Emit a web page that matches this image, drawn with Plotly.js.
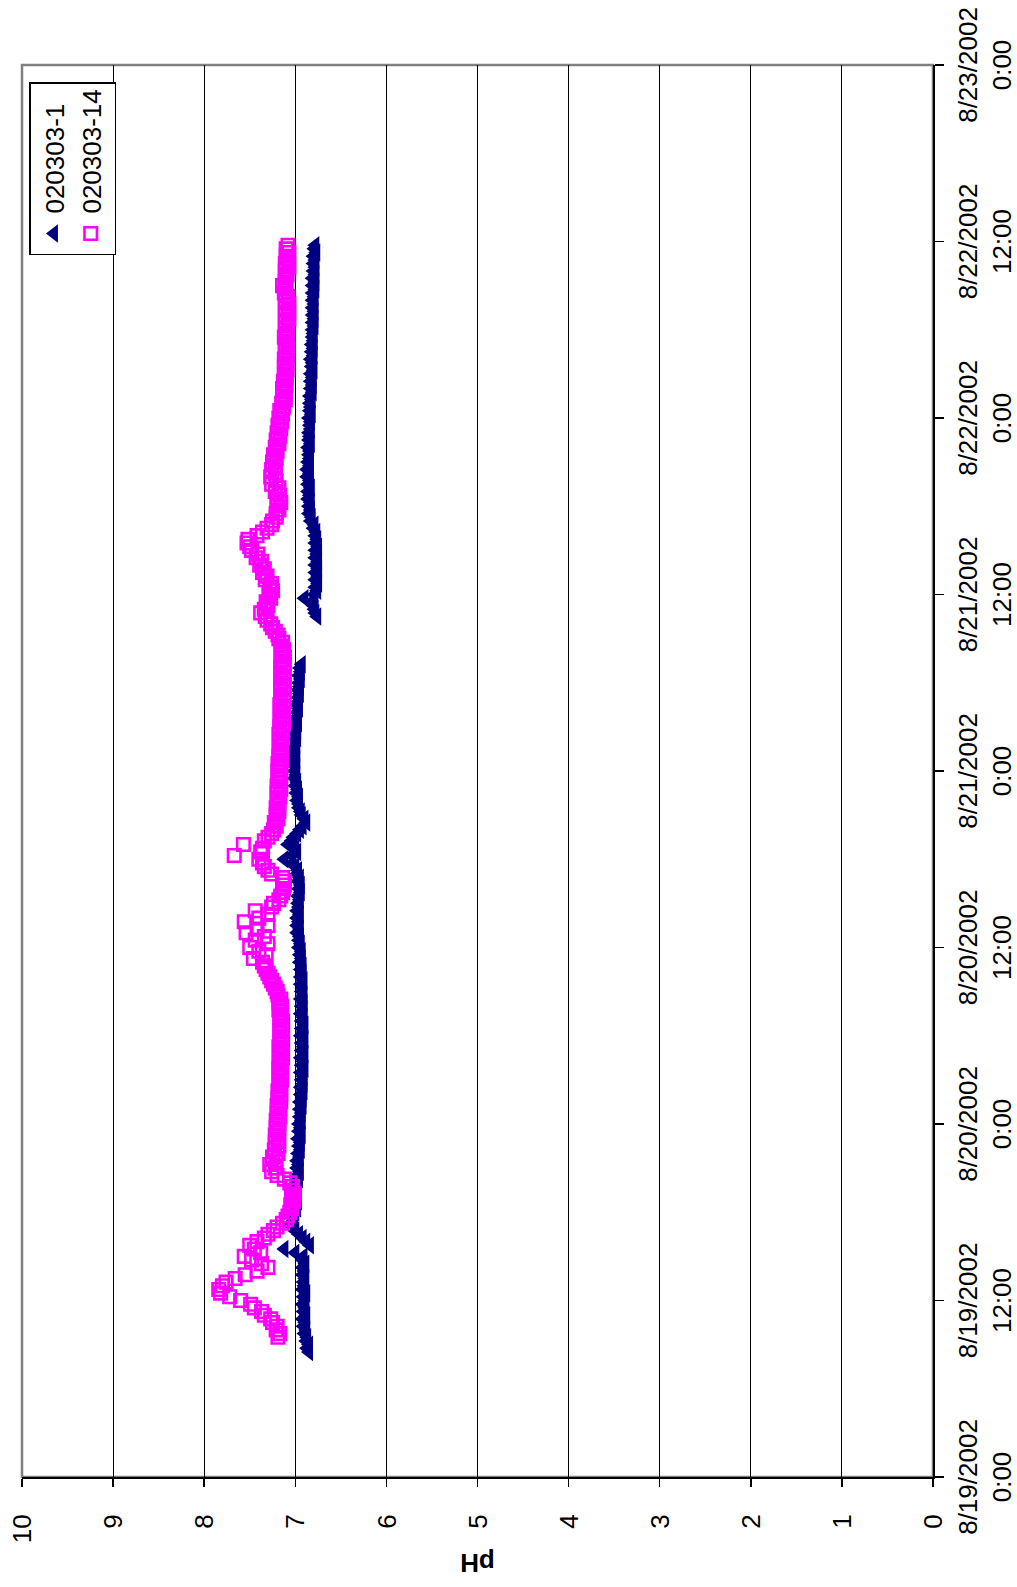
<!DOCTYPE html>
<html>
<head>
<meta charset="utf-8">
<script src="https://cdn.plot.ly/plotly-3.0.1.min.js"></script>
<style>
html, body { margin: 0; padding: 0; overflow: hidden; background: #fff; width: 1017px; height: 1587px; }
#wrap { position: absolute; left: 0; top: 0; width: 1587px; height: 1017px;
        transform-origin: 0 0; transform: translate(0px, 1587px) rotate(-90deg); }
</style>
</head>
<body>
<div id="wrap"><div id="chart" style="width:1587px;height:1017px"></div></div>
<script>
// ---- data ----
const seriesNames = ['020303-1', '020303-14'];
const loggerStartDate = '2002-08-19 00:00';   // hour 0
const loggerStepMinutes = 15;                 // logging interval

// 020303-1 : first reading at hour 8.5, one reading every 15 min (null = no reading)
const s1StartHour = 8.5;
const s1PH = [
  6.85, 6.87, 6.85, 6.88, 6.87, 6.90,
  6.88, 6.91, 6.89, 6.92, 6.88, 6.91, 6.89, 6.92, 6.89, 6.91, 6.88, 6.92, 6.90, 6.91, 6.89, 6.92, 6.90, 6.92, 6.89, 6.92,
  6.91, 7.00, 7.12, 6.84, 6.88, 6.92, 6.96, 7.00,
  7.03, 7.05, 7.01, 7.02,
  7.00, 6.98, 7.01, 6.97, 7.00, 6.97, 6.99, 6.97,
  6.98, 6.96, 6.98, 6.95, 6.98, 6.96, 6.98, 6.95,
  6.97, 6.94, 6.96, 6.94, 6.97, 6.93, 6.96, 6.94,
  6.96, 6.93, 6.95, 6.93, 6.95, 6.92, 6.95, 6.92,
  6.94, 6.91, 6.94, 6.91, 6.93, 6.91, 6.94, 6.90,
  6.93, 6.91, 6.94, 6.90, 6.93, 6.91, 6.93, 6.90,
  6.94, 6.91, 6.93, 6.90, 6.93, 6.91, 6.94, 6.91,
  6.93, 6.91, 6.94, 6.91, 6.93, 6.92, 6.94, 6.91,
  6.94, 6.92, 6.94, 6.92, 6.95, 6.93, 6.95, 6.93,
  6.96, 6.94, 6.96, 6.95, 6.98, 6.95, 6.98, 6.96,
  6.98, 6.95, 6.98, 6.96, 6.97, 6.95, 6.97, 6.94,
  6.96, 6.94, 6.97, 6.95, 6.98, 6.97, 7.00, 7.03,
  7.12, 7.04, 6.98, 7.00, 7.08, 7.04, 7.02, 6.98,
  6.95, 6.92, 6.88, 6.90, 6.93, 6.94, 6.96, 6.96,
  6.98, 6.96, 6.99, 6.97, 7.00, 6.98, 7.01, 6.99,
  7.01, 6.99, 7.02, 6.99, 7.01, 6.99, 7.02, 6.99,
  7.01, 6.98, 7.00, 6.98, 7.00, 6.97, 6.99, 6.97,
  6.98, 6.96, 6.98, 6.96, 6.97, 6.95, 6.97, 6.95,
  6.96, 6.94, 6.96, 6.94, 6.95, 6.93,
  null, null, null, null, null, null, null, null, null, null, null, null,
  6.76, 6.78, 6.79, 6.80, 6.82, 6.90,
  6.79, 6.76, 6.78, 6.75, 6.78, 6.75, 6.78, 6.75,
  6.78, 6.75, 6.78, 6.76, 6.78, 6.75, 6.78, 6.76,
  6.78, 6.77, 6.80, 6.79, 6.83, 6.82, 6.85, 6.83,
  6.85, 6.83, 6.86, 6.84, 6.86, 6.83, 6.86, 6.84,
  6.87, 6.84, 6.87, 6.84, 6.86, 6.84, 6.85, 6.84,
  6.86, 6.83, 6.85, 6.84, 6.85, 6.83, 6.84, 6.83,
  6.85, 6.82, 6.84, 6.83, 6.84, 6.82, 6.84, 6.81,
  6.83, 6.81, 6.83, 6.81, 6.83, 6.80, 6.82, 6.81,
  6.83, 6.80, 6.82, 6.80, 6.82, 6.80, 6.81, 6.80,
  6.81, 6.79, 6.81, 6.79, 6.81, 6.79, 6.81, 6.79,
  6.81, 6.79, 6.81, 6.78, 6.81, 6.78, 6.81, 6.78,
  6.80, 6.78, 6.80, 6.78, 6.80, 6.77, 6.79, 6.78
];

// 020303-14 : first reading at hour 9.5, one reading every 15 min
const s2StartHour = 9.5;
const s2PH = [
  7.19, 7.17,
  7.21, 7.20, 7.25, 7.27,
  7.34, 7.37, 7.45, 7.49,
  7.60, 7.72, 7.82, 7.84,
  7.80, 7.76, 7.66, 7.55,
  7.42, 7.30, 7.37, 7.48,
  7.56, 7.38, 7.45, 7.50,
  7.42, 7.34, 7.30, 7.24,
  7.20, 7.14, 7.10, 7.08,
  7.06, 7.04, 7.05, 7.02, 7.04, 7.01, 7.04, 7.03,
  7.06, 7.12, 7.20, 7.26,
  7.22, 7.28, 7.21, 7.25,
  7.19, 7.23, 7.18, 7.22, 7.19, 7.22, 7.18, 7.21,
  7.18, 7.21, 7.17, 7.20, 7.17, 7.20, 7.16, 7.19,
  7.16, 7.19, 7.16, 7.18, 7.15, 7.18, 7.15, 7.18,
  7.15, 7.18, 7.14, 7.17, 7.15, 7.18, 7.14, 7.17,
  7.14, 7.17, 7.14, 7.17, 7.14, 7.17, 7.15, 7.18,
  7.15, 7.18, 7.16, 7.19, 7.20, 7.22, 7.24, 7.26,
  7.28, 7.30, 7.32, 7.34, 7.36, 7.46, 7.32, 7.40,
  7.50, 7.30, 7.44, 7.34, 7.54, 7.42, 7.30, 7.56,
  7.40, 7.30, 7.44, 7.26, 7.24, 7.18, 7.16, 7.14,
  7.13, 7.12, 7.12, 7.14, 7.26, 7.30, 7.34, 7.36,
  7.40, 7.67, 7.38, 7.36, 7.57, 7.34, 7.30, 7.26,
  7.24, 7.21, 7.23, 7.19, 7.21, 7.18, 7.21, 7.18,
  7.20, 7.17, 7.20, 7.16, 7.20, 7.17, 7.19, 7.16,
  7.19, 7.16, 7.19, 7.15, 7.18, 7.16, 7.18, 7.15,
  7.17, 7.14, 7.18, 7.14, 7.17, 7.13, 7.17, 7.14,
  7.16, 7.13, 7.17, 7.12, 7.16, 7.13, 7.16, 7.12,
  7.16, 7.13, 7.16, 7.12, 7.16, 7.13, 7.16, 7.12,
  7.15, 7.13, 7.16, 7.14, 7.18, 7.19, 7.22, 7.25,
  7.27, 7.31, 7.33, 7.38, 7.34, 7.30, 7.32, 7.27,
  7.29, 7.25, 7.28, 7.26, 7.33, 7.31, 7.36, 7.34,
  7.39, 7.37, 7.43, 7.41, 7.48, 7.50, 7.53, 7.52,
  7.42, 7.36, 7.31, 7.26, 7.25, 7.21, 7.21, 7.18,
  7.20, 7.16, 7.20, 7.17, 7.22, 7.18, 7.26, 7.21,
  7.27, 7.22, 7.26, 7.22, 7.25, 7.21, 7.24, 7.20,
  7.22, 7.18, 7.21, 7.17, 7.20, 7.16, 7.19, 7.15,
  7.18, 7.14, 7.17, 7.13, 7.15, 7.11, 7.14, 7.11,
  7.14, 7.10, 7.13, 7.10, 7.12, 7.09, 7.12, 7.09,
  7.12, 7.08, 7.11, 7.08, 7.11, 7.08, 7.12, 7.09,
  7.11, 7.08, 7.11, 7.07, 7.11, 7.08, 7.11, 7.07,
  7.11, 7.08, 7.12, 7.10, 7.14, 7.11, 7.11, 7.09,
  7.11, 7.07, 7.11, 7.08, 7.10, 7.07, 7.10, 7.08
];

const dateTickVals = ['2002-08-19 00:00', '2002-08-19 12:00', '2002-08-20 00:00', '2002-08-20 12:00',
  '2002-08-21 00:00', '2002-08-21 12:00', '2002-08-22 00:00', '2002-08-22 12:00', '2002-08-23 00:00'];
const dateTickText = ['8/19/2002<br>0:00', '8/19/2002<br>12:00', '8/20/2002<br>0:00', '8/20/2002<br>12:00',
  '8/21/2002<br>0:00', '8/21/2002<br>12:00', '8/22/2002<br>0:00', '8/22/2002<br>12:00', '8/23/2002<br>0:00'];
const pHRange = [0, 10];

// ---- build sample times from the logger start and interval ----
const t0 = new Date(loggerStartDate.replace(' ', 'T') + ':00Z').getTime();
function sampleTimes(startHour, n) {
  const out = [];
  for (let i = 0; i < n; i++) {
    const ms = t0 + Math.round((startHour * 60 + i * loggerStepMinutes) * 60000);
    out.push(new Date(ms).toISOString().slice(0, 19).replace('T', ' '));
  }
  return out;
}
const FONT = 'Liberation Sans, Arial, Helvetica, sans-serif';

const traces = [
  {
    type: 'scatter', mode: 'markers', name: seriesNames[0],
    x: sampleTimes(s1StartHour, s1PH.length), y: s1PH,
    marker: { symbol: 'triangle-up', size: 16, color: '#000080', line: { width: 0 } }
  },
  {
    type: 'scatter', mode: 'markers', name: seriesNames[1],
    x: sampleTimes(s2StartHour, s2PH.length), y: s2PH,
    marker: { symbol: 'square-open', size: 12.5, color: '#FF00FF', line: { width: 2.6, color: '#FF00FF' } }
  }
];

const layout = {
  width: 1587, height: 1017,
  margin: { l: 110, r: 65, t: 22, b: 84, pad: 0 },
  paper_bgcolor: '#ffffff', plot_bgcolor: '#ffffff',
  font: { family: FONT, size: 26, color: '#000' },
  showlegend: true,
  legend: {
    x: 0.8654, y: 0.9923, xanchor: 'left', yanchor: 'top',
    bgcolor: '#ffffff', bordercolor: '#000', borderwidth: 1.5,
    font: { family: FONT, size: 26, color: '#000' }
  },
  xaxis: {
    type: 'date',
    range: ['2002-08-19 00:00', '2002-08-23 00:00'],
    tickmode: 'array', tickvals: dateTickVals, ticktext: dateTickText,
    ticks: 'outside', ticklen: 9, tickwidth: 1.5, tickcolor: '#000',
    tickangle: 0, ticklabelstandoff: 2,
    showline: true, linecolor: '#000', linewidth: 2,
    showgrid: false, zeroline: false,
    tickfont: { family: FONT, size: 26, color: '#000' }
  },
  yaxis: {
    range: pHRange, tickmode: 'linear', tick0: 0, dtick: 1,
    ticks: 'outside', ticklen: 8, tickwidth: 1.5, tickcolor: '#000',
    ticklabelstandoff: 22,
    showline: true, linecolor: '#000', linewidth: 2,
    showgrid: true, gridcolor: '#000', gridwidth: 1,
    zeroline: false,
    tickfont: { family: FONT, size: 26, color: '#000' },
    title: { text: '<b>pH</b>', font: { family: FONT, size: 26, color: '#000' }, standoff: 3 }
  },
  shapes: [
    { type: 'rect', xref: 'paper', yref: 'paper', x0: 0, x1: 1, y0: 0, y1: 1,
      line: { color: '#808080', width: 2.5 }, fillcolor: 'rgba(0,0,0,0)', layer: 'below' }
  ]
};

Plotly.newPlot('chart', traces, layout, { staticPlot: true, displayModeBar: false });
</script>
</body>
</html>
